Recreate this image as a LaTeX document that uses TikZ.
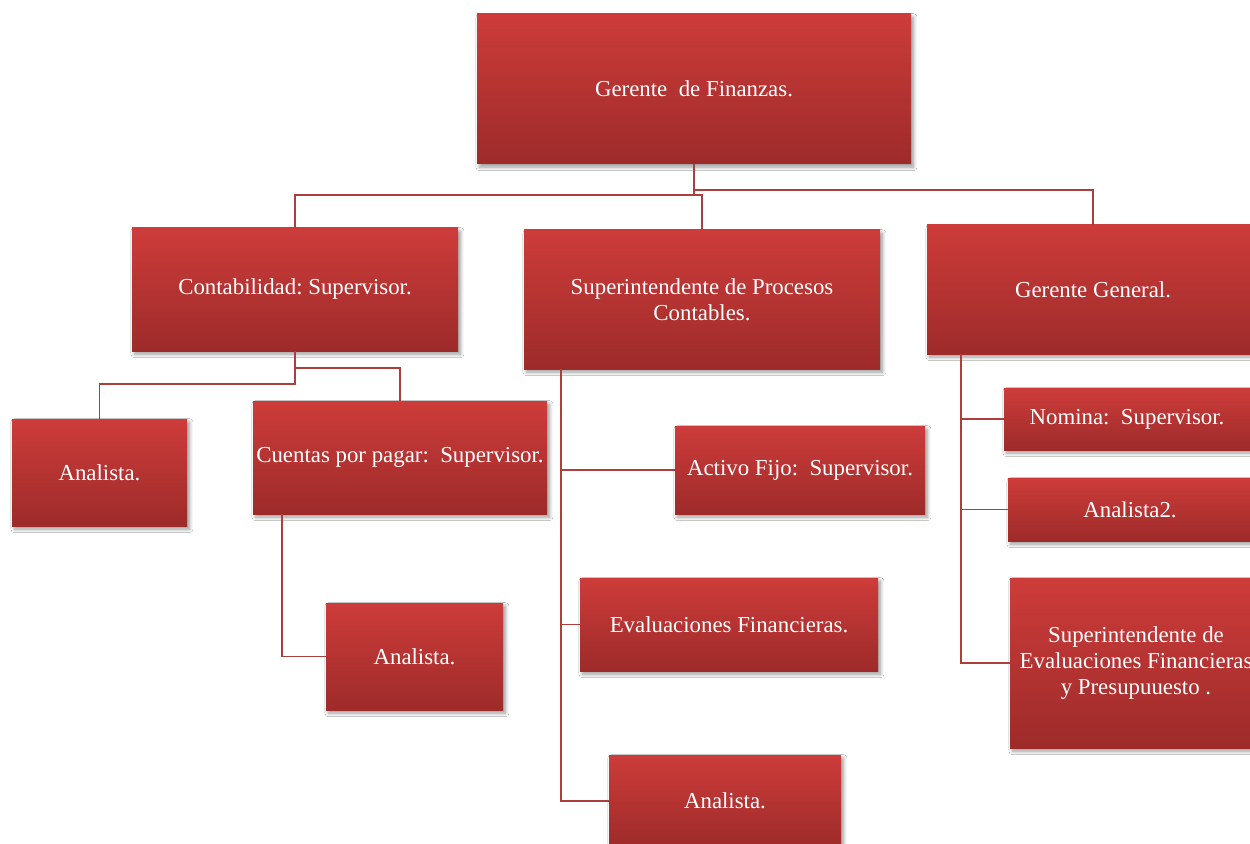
\documentclass[tikz,border=0pt]{standalone}
\usepackage{fontspec}
\setmainfont{Liberation Serif}
\usetikzlibrary{calc,shadows.blur}
\definecolor{rtop}{RGB}{205,60,58}
\definecolor{rbot}{RGB}{157,43,42}
\definecolor{linec}{RGB}{172,62,60}
\frenchspacing
\tikzset{
  orgbox/.style={draw=none, top color=rtop, bottom color=rbot, text=white,
    font=\fontsize{13}{14.7}\selectfont, align=center, inner sep=0pt,
    blur shadow={shadow xshift=1.4pt, shadow yshift=-1.8pt, shadow blur steps=8, shadow blur radius=2pt, shadow opacity=40}},
  conn/.style={draw=linec, line width=1.1pt}
}
\newcommand\orgnode[6]{%
  \node[orgbox, minimum width={(#4-#2)*0.02cm}, minimum height={(#5-#3)*0.02cm}]
    (#1) at ({(#2+#4)/2},{(#3+#5)/2}) {#6};}
\begin{document}
\begin{tikzpicture}[x=0.02cm,y=-0.02cm]
\useasboundingbox (0,0) rectangle (1250,844);
\clip (0,0) rectangle (1250,844);
\fill[white] (0,0) rectangle (1250,844);
% boxes
\orgnode{gf}{477}{14}{911}{164}{Gerente\ \ de Finanzas.}
\orgnode{cont}{132}{228}{458}{351}{Contabilidad: Supervisor.}
\orgnode{spc}{524}{230}{880}{369}{Superintendente de Procesos\\Contables.}
\orgnode{gg}{927}{225}{1259}{354}{Gerente General.}
\orgnode{an1}{12}{419}{187}{526}{Analista.}
\orgnode{cxp}{253}{401}{547}{514}{Cuentas por pagar:\ \ Supervisor.}
\orgnode{an2}{326}{603}{503}{710}{Analista.}
\orgnode{af}{675}{426}{925}{514}{Activo Fijo:\ \ Supervisor.}
\orgnode{ev}{580}{578}{878}{671}{Evaluaciones Financieras.}
\orgnode{an3}{609}{755}{841}{847}{Analista.}
\orgnode{nom}{1004}{388}{1250}{450}{Nomina:\ \ Supervisor.}
\orgnode{a2}{1008}{478}{1252}{541}{Analista2.}
\orgnode{sef}{1010}{578}{1262}{748}{Superintendente de\\Evaluaciones Financieras\\y Presupuuesto .}
% connectors
\draw[conn] (gf.south) -- ++(0,31) -| (cont.north);
\draw[conn] (gf.south) -- ++(0,26) -| (gg.north);
\draw[conn] ($(gf.south)+(0,31)$) -| (spc.north);
\draw[conn] (cont.south) -- ++(0,33) -| (an1.north);
\draw[conn] ($(cont.south)+(0,17)$) -| (cxp.north);
\draw[conn] ($(cxp.south west)+(29,0)$) |- (an2.west);
\draw[conn] ($(spc.south west)+(37,0)$) |- (af.west);
\draw[conn] ($(spc.south west)+(37,0)$) |- (ev.west);
\draw[conn] ($(spc.south west)+(37,0)$) |- (an3.west);
\draw[conn] ($(gg.south west)+(34,0)$) |- (nom.west);
\draw[conn] ($(gg.south west)+(34,0)$) |- (a2.west);
\draw[conn] ($(gg.south west)+(34,0)$) |- (sef.west);
\end{tikzpicture}
\end{document}
